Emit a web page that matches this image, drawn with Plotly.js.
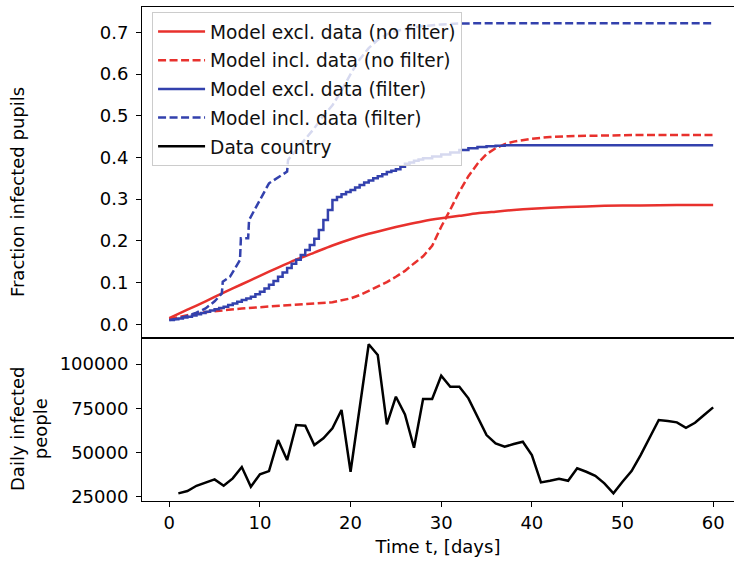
<!DOCTYPE html>
<html>
<head>
<meta charset="utf-8">
<script src="https://cdn.plot.ly/plotly-3.0.1.min.js"></script>
<style>html,body{margin:0;padding:0;background:#fff;}#chart{width:734px;height:561px;}</style>
</head>
<body>
<div id="chart"></div>
<script>
// ---- data ----
const redSolidX = [0,2,4,6,8,10,12,14,16,18,20,22,24,26,28,30,32,34,36,38,40,44,48,52,56,60];
const redSolidY = [0.015,0.035,0.055,0.076,0.096,0.116,0.136,0.155,0.172,0.189,0.204,0.217,0.228,0.238,0.247,0.254,0.260,0.266,0.270,0.274,0.277,0.281,0.284,0.285,0.286,0.286];

const redDashX = [0,2,4,6,8,10,12,14,16,18,20,21,22,23,24,25,26,27,28,29,30,31,32,33,34,35,36,37,38,40,42,44,48,52,56,60];
const redDashY = [0.012,0.022,0.029,0.034,0.038,0.041,0.044,0.046,0.049,0.053,0.062,0.070,0.080,0.090,0.101,0.114,0.128,0.146,0.163,0.188,0.234,0.275,0.318,0.355,0.385,0.408,0.422,0.432,0.438,0.445,0.449,0.451,0.453,0.454,0.454,0.454];

const blueSolidX = [0,0.5,1,1.5,2,2.5,3,3.5,4,4.5,5,5.5,6,6.5,7,7.5,8,8.5,9,9.5,10,10.5,11,11.5,12,12.5,13,13.5,14,14.5,15,15.5,16,16.5,17,17.5,18,18.5,19,19.5,20,20.5,21,21.5,22,22.5,23,23.5,24,24.5,25,25.5,26,26.5,27,27.5,28,29,30,31,32,33,34,35,36,37,40,45,50,55,60];
const blueSolidY = [0.010,0.012,0.014,0.016,0.018,0.021,0.024,0.027,0.030,0.033,0.036,0.039,0.042,0.046,0.050,0.054,0.058,0.062,0.066,0.072,0.078,0.086,0.095,0.104,0.114,0.124,0.135,0.145,0.155,0.166,0.178,0.190,0.205,0.226,0.250,0.274,0.298,0.305,0.312,0.317,0.322,0.328,0.334,0.340,0.345,0.350,0.355,0.360,0.365,0.368,0.372,0.378,0.385,0.388,0.392,0.395,0.398,0.402,0.407,0.412,0.418,0.422,0.425,0.427,0.428,0.429,0.429,0.429,0.429,0.429,0.429];

const blueDashX = [0,1,2,3,4,5,5.8,5.9,6.7,7.8,7.9,8.7,8.8,9.9,11,13,13.1,14,15,16,17,18,19,20,21,22,23,24,25,26,27,28,30,32,35,60];
const blueDashY = [0.010,0.014,0.020,0.028,0.038,0.055,0.074,0.102,0.114,0.154,0.206,0.206,0.250,0.294,0.338,0.366,0.394,0.418,0.445,0.470,0.500,0.525,0.560,0.600,0.635,0.662,0.682,0.695,0.703,0.708,0.712,0.715,0.719,0.721,0.722,0.722];

const countryDays = [];
for (let d = 1; d <= 60; d++) countryDays.push(d);
const countryCases = [27030,28330,31320,33020,34930,31320,35500,41870,30760,37760,
  39620,57110,45820,65580,65200,54290,58070,63710,74040,39220,
  74500,111120,105080,65970,81550,71610,52760,80250,80250,93400,
  87190,87190,80640,70260,59930,55240,53330,54850,56150,48650,
  33240,34140,35270,34140,41140,39220,36960,32670,27030,33580,
  39620,48650,58410,68400,67830,67100,64050,66870,71220,75560];

const legendNames = ["Model excl. data (no filter)","Model incl. data (no filter)","Model excl. data (filter)","Model incl. data (filter)","Data country"];
const topTicks = [0,0.1,0.2,0.3,0.4,0.5,0.6,0.7];
const bottomTicks = [25000,50000,75000,100000];
const xTicks = [0,10,20,30,40,50,60];
const topYTitle = "Fraction infected pupils";
const bottomYTitle = "Daily infected<br>people";
const xTitle = "Time t, [days]";

// ---- styling ----
const RED = "#e8312d", BLUE = "#3341ad", FONT = "DejaVu Sans, sans-serif";
const DASH = "8px,3.5px";
const LW = 2.5;

const traces = [
  {x: redSolidX, y: redSolidY, name: legendNames[0], mode: "lines", line: {color: RED, width: LW, shape: "spline", smoothing: 0.6}, xaxis: "x2", yaxis: "y2", legendgroup: "a"},
  {x: redDashX, y: redDashY, name: legendNames[1], mode: "lines", line: {color: RED, width: LW, dash: DASH}, xaxis: "x2", yaxis: "y2", legendgroup: "b"},
  {x: blueSolidX, y: blueSolidY, name: legendNames[2], mode: "lines", line: {color: BLUE, width: LW, shape: "hv"}, xaxis: "x2", yaxis: "y2", legendgroup: "c"},
  {x: blueDashX, y: blueDashY, name: legendNames[3], mode: "lines", line: {color: BLUE, width: LW, dash: DASH}, xaxis: "x2", yaxis: "y2", legendgroup: "d"},
  {x: countryDays, y: countryCases, name: legendNames[4], mode: "lines", line: {color: "#000", width: LW}, xaxis: "x", yaxis: "y", legendgroup: "e"}
];

const axBase = {showgrid: false, zeroline: false, showline: true, linecolor: "#000", linewidth: 1, ticks: "outside", ticklen: 5, tickwidth: 1, tickcolor: "#000", tickfont: {family: FONT, size: 18, color: "#000"}};

const layout = {
  width: 734, height: 561,
  margin: {l: 142, r: 0, t: 7, b: 60},
  paper_bgcolor: "#fff", plot_bgcolor: "#fff",
  font: {family: FONT, size: 18, color: "#000"},
  showlegend: true,
  legend: {x: 0.017, y: 0.99, xanchor: "left", yanchor: "top", bgcolor: "rgba(255,255,255,0.8)", bordercolor: "#cccccc", borderwidth: 1, font: {family: FONT, size: 18.6, color: "#111"}, traceorder: "grouped", tracegroupgap: 1.5, itemwidth: 47},
  xaxis: Object.assign({}, axBase, {domain: [0, 1], range: [-3.01, 62.3], tickvals: xTicks, mirror: true, anchor: "y", title: {text: xTitle, font: {family: FONT, size: 18, color: "#000"}, standoff: 8}}),
  yaxis: Object.assign({}, axBase, {domain: [0, 0.3306], range: [22740, 114840], tickvals: bottomTicks, tickformat: "d", anchor: "x", ticklabelstandoff: 4}),
  xaxis2: Object.assign({}, axBase, {domain: [0, 1], range: [-3.01, 62.3], matches: "x", showticklabels: false, ticks: "", mirror: true, anchor: "y2"}),
  yaxis2: Object.assign({}, axBase, {domain: [0.3306, 1], range: [-0.0321, 0.7607], tickvals: topTicks, tickformat: ".1f", anchor: "x2", ticklabelstandoff: 4}),
  annotations: [
    {text: topYTitle, xref: "paper", yref: "paper", x: -0.211, y: 0.6255, xanchor: "center", yanchor: "middle", textangle: -90, showarrow: false, font: {family: FONT, size: 18, color: "#000"}},
    {text: bottomYTitle, xref: "paper", yref: "paper", x: -0.19, y: 0.1468, xanchor: "center", yanchor: "middle", textangle: -90, showarrow: false, font: {family: FONT, size: 18, color: "#000"}}
  ]
};

Plotly.newPlot("chart", traces, layout, {displayModeBar: false, staticPlot: true});
</script>
</body>
</html>
